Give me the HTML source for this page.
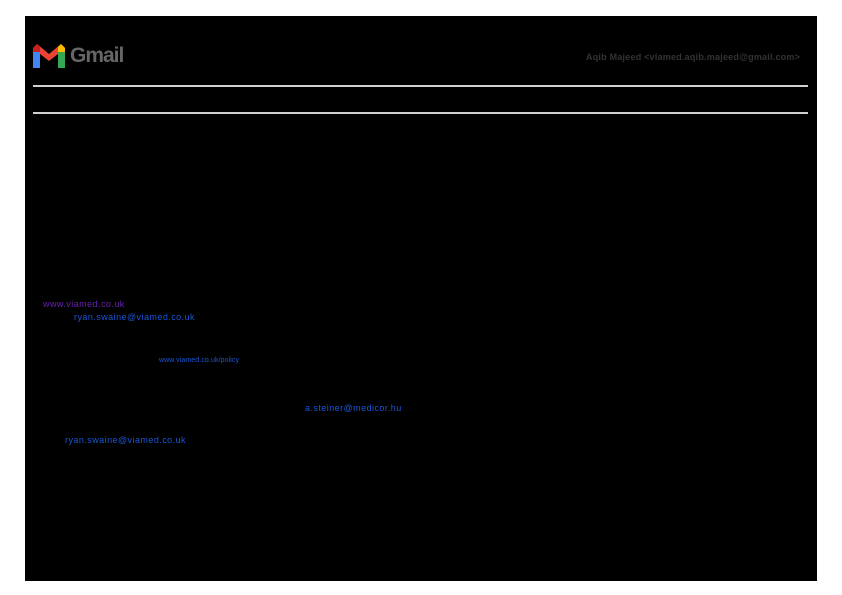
<!DOCTYPE html>
<html><head><meta charset="utf-8"><style>
html,body{margin:0;padding:0;width:842px;height:595px;background:#fff;overflow:hidden;font-family:"Liberation Sans",sans-serif}
#bg{position:absolute;left:25px;top:16px;width:792px;height:565px;background:#000}
.ln{position:absolute;left:33px;width:775px;height:2px;background:#d0d0d0}
.t{position:absolute;white-space:nowrap;font-size:9px;letter-spacing:0.45px}
.b{color:#1a56d6}
</style></head><body>
<div id="bg"></div>
<svg style="position:absolute;left:33px;top:44px" width="32" height="24" viewBox="0 0 32 24">
<rect x="0" y="4" width="7" height="20" fill="#4285f4"/>
<rect x="25" y="4" width="7" height="20" fill="#34a853"/>
<polygon points="0,4 4,0 16,10 28,0 32,4 25,8 25,10 16,17 7,10 7,8" fill="#ea4335"/>
<polygon points="25,3 28,0 32,4 32,8 25,8" fill="#fbbc04"/>
<polygon points="0,4 4,0 7,3 7,8 0,8" fill="#c5221f"/>
</svg>
<div class="t" style="left:70px;top:44px;font-size:21px;font-weight:bold;color:#666;letter-spacing:-1px">Gmail</div>
<div class="t" style="left:586px;top:52px;font-size:9px;font-weight:bold;color:#333;letter-spacing:0.22px">Aqib Majeed &lt;viamed.aqib.majeed@gmail.com&gt;</div>
<div class="ln" style="top:85px"></div>
<div class="ln" style="top:112px"></div>
<div class="t" style="left:43px;top:299px;color:#6a1fb0">www.viamed.co.uk</div>
<div class="t b" style="left:74px;top:312px">ryan.swaine@viamed.co.uk</div>
<div class="t b" style="left:159px;top:357px;font-size:7px;letter-spacing:0.1px">www.viamed.co.uk/policy</div>
<div class="t b" style="left:305px;top:403px">a.steiner@medicor.hu</div>
<div class="t b" style="left:65px;top:435px">ryan.swaine@viamed.co.uk</div>
</body></html>
